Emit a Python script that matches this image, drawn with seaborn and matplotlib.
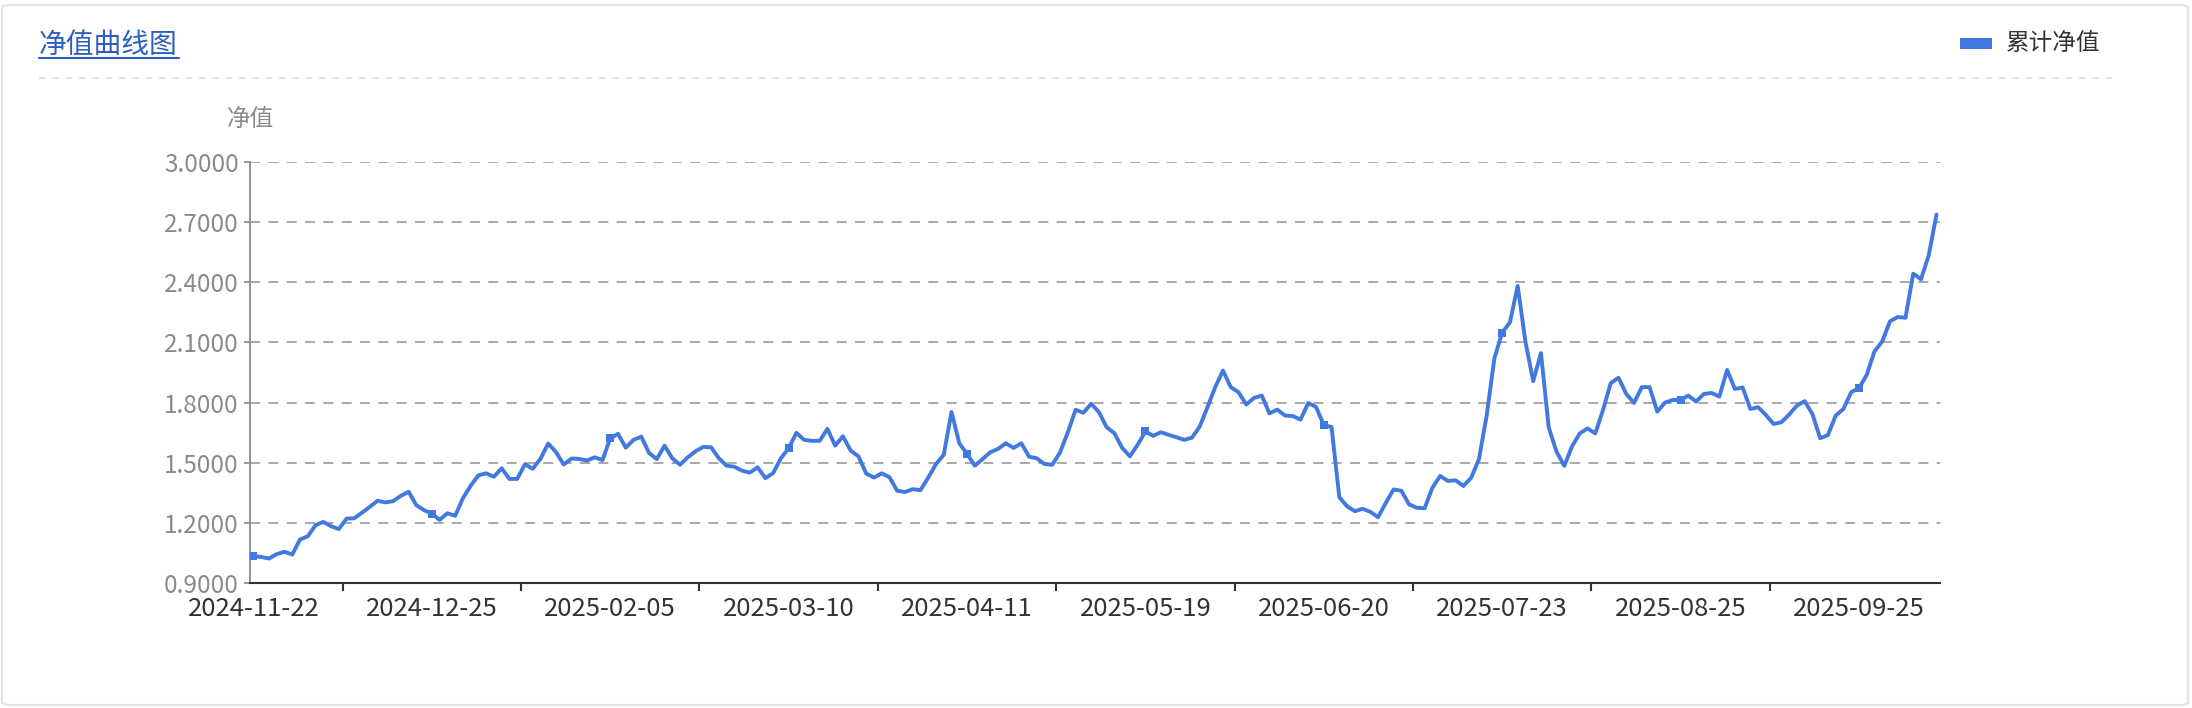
import matplotlib
matplotlib.use("Agg")
import matplotlib.pyplot as plt
import numpy as np
import pandas as pd
import seaborn as sns
from matplotlib.lines import Line2D
from matplotlib.patches import FancyBboxPatch, Rectangle

# data (one value per trading day)
nav_values = [
    1.034, 1.030, 1.022, 1.044, 1.056, 1.042, 1.117, 1.133, 1.188, 1.205,
    1.183, 1.169, 1.221, 1.223, 1.251, 1.280, 1.310, 1.302, 1.308, 1.335,
    1.355, 1.288, 1.263, 1.246, 1.215, 1.248, 1.235, 1.323, 1.385, 1.437,
    1.447, 1.430, 1.472, 1.419, 1.419, 1.492, 1.470, 1.519, 1.596, 1.553,
    1.491, 1.521, 1.519, 1.511, 1.527, 1.513, 1.622, 1.644, 1.575, 1.614,
    1.630, 1.549, 1.518, 1.585, 1.522, 1.490, 1.527, 1.557, 1.579, 1.577,
    1.522, 1.485, 1.480, 1.460, 1.451, 1.477, 1.423, 1.448, 1.522, 1.572,
    1.649, 1.614, 1.609, 1.609, 1.669, 1.585, 1.632, 1.560, 1.532, 1.446,
    1.426, 1.447, 1.428, 1.360, 1.354, 1.368, 1.363, 1.426, 1.493, 1.540,
    1.753, 1.597, 1.544, 1.485, 1.518, 1.552, 1.569, 1.597, 1.574, 1.597,
    1.530, 1.522, 1.493, 1.490, 1.552, 1.652, 1.764, 1.749, 1.794, 1.753,
    1.677, 1.647, 1.574, 1.532, 1.589, 1.656, 1.634, 1.652, 1.639, 1.627,
    1.614, 1.625, 1.680, 1.777, 1.877, 1.960, 1.877, 1.852, 1.790, 1.823,
    1.835, 1.746, 1.765, 1.735, 1.733, 1.715, 1.798, 1.778, 1.688, 1.678,
    1.328, 1.283, 1.258, 1.270, 1.255, 1.228, 1.300, 1.367, 1.360, 1.292,
    1.275, 1.273, 1.375, 1.434, 1.409, 1.412, 1.384, 1.425, 1.517, 1.735,
    2.022, 2.149, 2.200, 2.382, 2.103, 1.907, 2.047, 1.676, 1.556, 1.484,
    1.581, 1.646, 1.671, 1.646, 1.763, 1.897, 1.924, 1.843, 1.798, 1.877,
    1.877, 1.755, 1.800, 1.813, 1.813, 1.835, 1.805, 1.843, 1.848, 1.830,
    1.963, 1.868, 1.875, 1.768, 1.777, 1.738, 1.693, 1.702, 1.740, 1.785,
    1.807, 1.743, 1.622, 1.638, 1.735, 1.768, 1.852, 1.872, 1.938, 2.055,
    2.105, 2.205, 2.227, 2.223, 2.443, 2.415, 2.535, 2.738,
]
date_labels = ["2024-11-22", "2024-12-25", "2025-02-05", "2025-03-10", "2025-04-11",
               "2025-05-19", "2025-06-20", "2025-07-23", "2025-08-25", "2025-09-25"]
label_step = 23
y_ticks = [0.9, 1.2, 1.5, 1.8, 2.1, 2.4, 2.7, 3.0]
series_name = "累计净值"

LINE_COLOR = "#4279e0"

df = pd.DataFrame({"idx": np.arange(len(nav_values)), "nav": nav_values})
label_pos = [i * label_step for i in range(len(date_labels))]
df_marks = df[df["idx"].isin(label_pos)]

sns.set_style("white")
plt.rcParams["font.family"] = ["Noto Sans CJK SC", "DejaVu Sans"]

fig = plt.figure(figsize=(21.92, 7.08), dpi=100)
ax = fig.add_axes([250 / 2192, 1 - 583 / 708, 1690 / 2192, 421 / 708])

sns.lineplot(data=df, x="idx", y="nav", ax=ax, color=LINE_COLOR, linewidth=2.8)
sns.scatterplot(data=df_marks, x="idx", y="nav", ax=ax, color=LINE_COLOR,
                marker="s", s=36, edgecolor=LINE_COLOR, linewidth=0, zorder=3)

ax.set_xlim(-0.45, len(nav_values) - 1 + 0.45)
ax.set_ylim(0.9, 3.0)
ax.set_xlabel("")
ax.set_ylabel("")

# y axis
ax.set_yticks(y_ticks)
ax.set_yticklabels([f"{v:.4f}" for v in y_ticks])
ax.tick_params(axis="y", length=4, width=1.2, color="#888888", labelcolor="#8a8a8a",
               labelsize=17.5, pad=4, left=True)
for v in y_ticks[1:]:
    ax.axhline(v, color="#9a9a9a", linewidth=1.2, linestyle=(0, (6, 5)), zorder=0)

# x axis: labels on data points, ticks in between
ax.set_xticks(label_pos)
ax.set_xticklabels(date_labels)
ax.set_xticks([p + label_step / 2 for p in label_pos[:-1]], minor=True)
ax.tick_params(axis="x", which="major", length=0, labelcolor="#333333",
               labelsize=18.5, pad=9)
ax.tick_params(axis="x", which="minor", length=6, width=1.5, color="#333333",
               bottom=True)

for side in ["top", "right"]:
    ax.spines[side].set_visible(False)
ax.spines["left"].set_color("#8a8a8a")
ax.spines["left"].set_linewidth(1.3)
ax.spines["bottom"].set_color("#333333")
ax.spines["bottom"].set_linewidth(1.5)

# y axis name
fig.text(250 / 2192, 1 - 119 / 708, "净值", ha="center", va="center",
         fontsize=17, color="#8a8a8a")

# card frame
fig.patches.append(FancyBboxPatch((2 / 2192, 3 / 708), 2186 / 2192, 700 / 708,
                                  boxstyle="round,pad=0,rounding_size=0.004",
                                  transform=fig.transFigure, facecolor="none",
                                  edgecolor="#e3e3e3", linewidth=1.5))

# title with underline
fig.text(39 / 2192, 1 - 45 / 708, "净值曲线图", ha="left", va="center",
         fontsize=20, color="#2c5fbd")
fig.add_artist(Line2D([39 / 2192, 179 / 2192], [1 - 58 / 708, 1 - 58 / 708],
                      color="#2c5fbd", linewidth=1.5, transform=fig.transFigure))

# dashed separator
fig.add_artist(Line2D([39 / 2192, 2112 / 2192], [1 - 78 / 708, 1 - 78 / 708],
                      color="#dddddd", linewidth=1.2, linestyle=(0, (4, 4)),
                      transform=fig.transFigure))

# legend
fig.patches.append(Rectangle((1960 / 2192, 1 - 49 / 708), 32 / 2192, 11 / 708,
                             transform=fig.transFigure, facecolor=LINE_COLOR,
                             edgecolor="none"))
fig.text(2006 / 2192, 1 - 43 / 708, series_name, ha="left", va="center",
         fontsize=17, color="#333333")

fig.savefig("out.png", dpi=100, facecolor="white")
